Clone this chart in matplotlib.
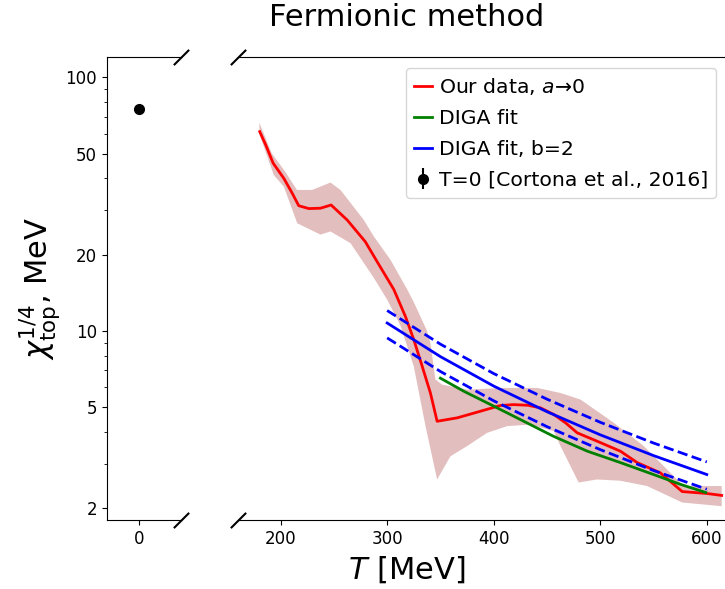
import numpy as np
import matplotlib
matplotlib.use("Agg")
import matplotlib.pyplot as plt

# ---- data ----
T_data = [180.4, 186, 193, 203, 210.8, 217, 226.4, 237.4, 247.4, 262.5, 279.5, 290.5,
          306.2, 317.2, 325, 332.9, 340.6, 346.9, 365.8, 387.5, 406.3, 418.8, 432,
          444, 456.4, 467.4, 478.4, 497.1, 519, 534.7, 556.5, 576.9, 599.8, 614]
chi_data = [61.1, 54.2, 45.9, 40.0, 35.0, 31.2, 30.4, 30.5, 31.4, 27.4, 22.5, 18.8,
            14.6, 11.4, 9.25, 7.26, 5.7, 4.41, 4.55, 4.83, 5.09, 5.13, 5.10,
            4.98, 4.69, 4.35, 3.97, 3.68, 3.36, 3.03, 2.76, 2.33, 2.29, 2.25]

T_band_hi = [180, 191.7, 204.3, 215.3, 229.6, 246.8, 256.2, 278.1, 287.5, 303.1, 318.8,
             325, 337.5, 340.6, 345.3, 351.6, 375, 409.5, 440.8, 462.7, 481.5, 512.7,
             540.9, 565.9, 578.4, 614]
chi_band_hi = [66.3, 50.2, 42.5, 36.0, 36.0, 38.5, 36.0, 27.4, 23.6, 19.1, 14.6,
               13.0, 10.0, 8.97, 6.44, 6.15, 5.88, 5.97, 5.97, 5.70, 5.37, 4.35,
               3.52, 2.76, 2.45, 2.45]

T_band_lo = [180.4, 193.6, 203, 215.6, 237.4, 246.8, 265.6, 287.5, 300, 312.5, 325,
             336, 346.9, 359.4, 375, 393.8, 412.6, 434.5, 456.4, 462.7, 479.7, 497,
             519, 544, 576.9, 614]
chi_band_lo = [59.3, 41.2, 37.1, 26.6, 24.0, 24.7, 22.2, 16.2, 13.3, 10.5, 7.26,
               4.22, 2.60, 3.21, 3.52, 3.97, 4.22, 4.28, 4.03, 3.52, 2.53, 2.60,
               2.57, 2.45, 2.11, 2.04]

T_diga = [350, 372, 400, 425, 456, 488, 519, 550, 575, 599]
chi_diga = [6.52, 5.79, 5.06, 4.48, 3.85, 3.36, 3.03, 2.72, 2.49, 2.31]

T_b2 = [300, 350, 400, 450, 500, 550, 600]
chi_b2 = [10.76, 7.93, 6.07, 4.81, 3.90, 3.23, 2.72]
chi_b2_hi = [12.05, 8.88, 6.80, 5.39, 4.37, 3.62, 3.05]
chi_b2_lo = [9.40, 6.93, 5.31, 4.20, 3.41, 2.82, 2.38]

T0 = [0]
chi_T0 = [75.0]
chi_T0_err = [1.8]

xticks_left = [0]
xticks_right = [200, 300, 400, 500, 600]
yticks = [2, 5, 10, 20, 50, 100]

W, H = 725, 589
fig = plt.figure(figsize=(W / 100, H / 100), dpi=100)

bottom = (H - 520) / H
height = (520 - 57.3) / H
ax1 = fig.add_axes([106.7 / W, bottom, 74.6 / W, height])
ax2 = fig.add_axes([238 / W, bottom, 490.1 / W, height])

for ax in (ax1, ax2):
    ax.set_yscale('log')
    ax.set_ylim(1.8, 120)

ax1.set_xlim(-30, 40)
ax2.set_xlim(160, 620)

# left panel
eb = ax1.errorbar(T0, chi_T0, yerr=chi_T0_err, fmt='o', color='black', ms=7,
                  label='T=0 [Cortona et al., 2016]')
ax1.set_xticks(xticks_left)
ax1.set_yticks(yticks)
ax1.set_yticklabels([str(v) for v in yticks])
ax1.spines['right'].set_visible(False)
ax1.tick_params(labelsize=12)

# right panel
band_T = T_band_hi + T_band_lo[::-1]
band_v = chi_band_hi + chi_band_lo[::-1]
ax2.fill(band_T, band_v, color='brown', alpha=0.3, lw=0)
l1, = ax2.plot(T_data, chi_data, color='red', lw=2, label=r'Our data, $a$→0')
l2, = ax2.plot(T_diga, chi_diga, color='green', lw=2, label='DIGA fit')
l3, = ax2.plot(T_b2, chi_b2, color='blue', lw=2, label='DIGA fit, b=2')
ax2.plot(T_b2, chi_b2_hi, color='blue', lw=2, ls='--')
ax2.plot(T_b2, chi_b2_lo, color='blue', lw=2, ls='--')
ax2.set_xticks(xticks_right)
ax2.spines['left'].set_visible(False)
ax2.spines['right'].set_visible(False)
ax2.tick_params(axis='y', which='both', left=False, right=False, labelleft=False)
ax2.tick_params(labelsize=12)

# break marks
kw = dict(marker=[(-1, -1), (1, 1)], markersize=11, linestyle='none',
          color='k', mec='k', mew=1.5, clip_on=False)
ax1.plot([1, 1], [0, 1], transform=ax1.transAxes, **kw)
ax2.plot([0, 0], [0, 1], transform=ax2.transAxes, **kw)

ax1.set_ylabel(r'$\chi_{\rm top}^{1/4}$, MeV', fontsize=22, labelpad=2)

fig.text(406.5 / W, 1 - 570 / H, r'$T$ [MeV]', fontsize=22, ha='center', va='center')
fig.text(406.5 / W, 1 - 18 / H, 'Fermionic method', fontsize=22, ha='center', va='center')

fig.legend([l1, l2, l3, eb], [l1.get_label(), l2.get_label(), l3.get_label(),
                              'T=0 [Cortona et al., 2016]'],
           loc='upper right', bbox_to_anchor=(716 / W, 1 - 68 / H),
           bbox_transform=fig.transFigure, borderaxespad=0, fontsize=14.7,
           handlelength=0.9, handletextpad=0.3, labelspacing=0.58)

fig.savefig('out.png', dpi=100)
